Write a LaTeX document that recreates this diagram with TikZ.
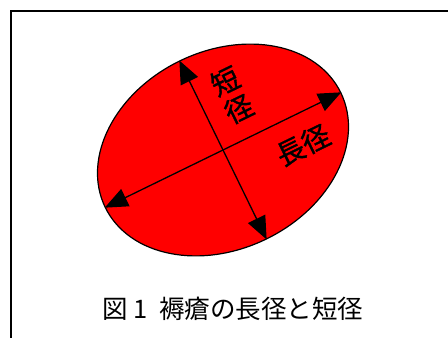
\documentclass[tikz,border=0pt]{standalone}
\usepackage{fontspec}
\newfontfamily\jpfont{Noto Sans CJK JP}
\newfontfamily\jplabelfont[FakeBold=1.2]{Noto Sans CJK JP}
\usetikzlibrary{shapes.geometric,arrows.meta}
\tikzset{
  axisarrow/.style={line width=1.3pt,{Triangle[length=23pt,width=19pt]}-{Triangle[length=23pt,width=19pt]}},
  axislabel/.style={font=\jplabelfont\fontsize{28}{31}\selectfont,inner sep=0pt,align=center,rotate=26},
  frameline/.style={line width=2pt}
}
\begin{document}
\begin{tikzpicture}[x=1pt,y=1pt]
\useasboundingbox (0,0) rectangle (448,338);
\fill[white] (0,0) rectangle (448,338);
\coordinate (ftop) at (11,0);
\coordinate (fcorner) at (11,327);
\coordinate (fright) at (448,327);
\draw[frameline] (ftop) -- (fcorner) -- (fright);
\node[ellipse,draw=black,line width=1.2pt,fill=red,inner sep=0pt,minimum width=262pt,minimum height=198pt,rotate=26] (E) at (223,188) {};
\draw[axisarrow] (E.west) -- (E.east);
\draw[axisarrow] (E.north) -- (E.south);
\node[axislabel] (long) at (303,193) {長径};
\node[axislabel] (short) at (232,243) {短\\径};
\node[font=\jpfont\fontsize{25.5}{28}\selectfont,inner sep=0pt,text=black] (cap) at (233,29) {図 1 \ 褥瘡の長径と短径};
\end{tikzpicture}
\end{document}
